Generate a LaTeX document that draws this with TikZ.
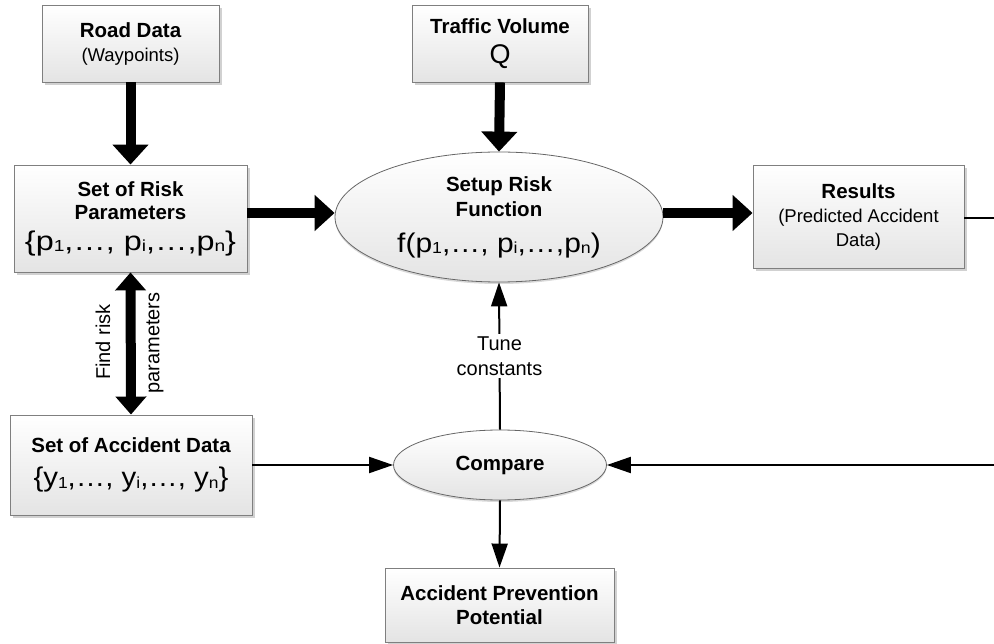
\documentclass[tikz,border=0pt]{standalone}
\usepackage{fontspec}
\setmainfont{Liberation Sans}
\usetikzlibrary{arrows.meta,shapes.geometric,shadows}
\newcommand\labB{\fontsize{20.5}{24}\selectfont\bfseries}
\newcommand\labR{\fontsize{18.5}{24}\selectfont}
\newcommand\labF{\fontsize{27}{28}\selectfont}
\newcommand\sbs[1]{\raisebox{-1.5pt}{\fontsize{16}{16}\selectfont #1}}
\newcommand\wide[2]{\scalebox{#1}[1]{#2}}
\definecolor{bordergray}{HTML}{7F7F7F}
\definecolor{shadegray}{HTML}{E4E4E4}
\tikzset{
  box/.style={rectangle, draw=bordergray, line width=0.9pt, top color=white, bottom color=shadegray,
    align=center, inner sep=0pt,
    drop shadow={shadow xshift=3pt, shadow yshift=-3pt, fill=black!18, opacity=1}},
  oval/.style={ellipse, draw=black!60, line width=0.8pt, top color=white, bottom color=shadegray,
    align=center, inner sep=0pt,
    drop shadow={shadow xshift=0pt, shadow yshift=-2pt, fill=black!15, opacity=1}},
  thick/.style={line width=10pt, -{Triangle[width=35pt,length=20pt]}},
  thickboth/.style={line width=10pt, {Triangle[width=30pt,length=18pt]}-{Triangle[width=30pt,length=18pt]}},
  thin/.style={line width=2pt, -{Triangle[width=16pt,length=24pt]}},
  plain/.style={line width=2pt},
  lab/.style={font=\fontsize{20}{25}\selectfont, align=center, inner sep=1pt}
}
\begin{document}
\begin{tikzpicture}[x=1pt,y=-1pt]
\useasboundingbox (0,0) rectangle (994,644);
% nodes
\node[box, minimum width=177pt, minimum height=77pt, font=\labR] (road) at (130.5,43.5)
  {{\labB Road Data}\\ (Waypoints)};
\node[box, minimum width=233pt, minimum height=107pt, font=\fontsize{20}{23}\selectfont] (risk) at (130.5,218.5)
  {{\labB Set of Risk}\\ {\labB Parameters}\\[8pt] {\labF \wide{1.2}{\{p\sbs{1},…, p\sbs{i},…,p\sbs{n}\}}}};
\node[box, minimum width=176pt, minimum height=77pt, font=\fontsize{20}{24}\selectfont] (traffic) at (500,43.5)
  {{\labB Traffic Volume}\\[6pt] {\labF Q}};
\node[oval, minimum width=328pt, minimum height=130pt, font=\fontsize{20}{25}\selectfont] (setup) at (499,217)
  {{\labB Setup Risk}\\ {\labB Function}\\[11pt] {\labF \wide{1.11}{f(p\sbs{1},…, p\sbs{i},…,p\sbs{n})}}};
\node[box, minimum width=211pt, minimum height=103pt, font=\labR] (results) at (858.5,216.5)
  {{\labB Results}\\ (Predicted Accident\\ Data)};
\node[box, minimum width=242pt, minimum height=100pt, font=\fontsize{20}{34}\selectfont] (accdata) at (131,465)
  {{\labB Set of Accident Data}\\ {\labF \wide{1.09}{\{y\sbs{1},…, y\sbs{i},…, y\sbs{n}\}}}};
\node[oval, minimum width=213pt, minimum height=70pt, font=\labB] (compare) at (500,465) {Compare};
\node[box, minimum width=229pt, minimum height=74pt, font=\fontsize{20}{24}\selectfont] (prevention) at (499.5,605)
  {{\labB Accident Prevention}\\ {\labB Potential}};
\coordinate (outR) at (994,218);
\coordinate (inR) at (994,465);
% connectors
\draw[thick] (road.south) -- (risk.north);
\draw[thick] (traffic.south) -- (setup.north);
\draw[thick] (risk.east |- 0,213) -- (setup.west |- 0,213);
\draw[thick] (setup.east |- 0,213) -- (results.west |- 0,213);
\draw[thickboth] (risk.south) -- (accdata.north);
\node[lab, rotate=90] (findrisk) at (103,342) {Find risk};
\node[lab, rotate=90] (params) at (155,343) {parameters};
\draw[thin] (compare.north) -- node[lab, fill=white, inner sep=3pt] (tune) {Tune\\constants} (setup.south);
\draw[thin] (accdata.east) -- (compare.west);
\draw[thin] (compare.south) -- (prevention.north);
\draw[plain] (results.east |- outR) -- (outR);
\draw[thin] (inR) -- (compare.east);
\end{tikzpicture}
\end{document}
